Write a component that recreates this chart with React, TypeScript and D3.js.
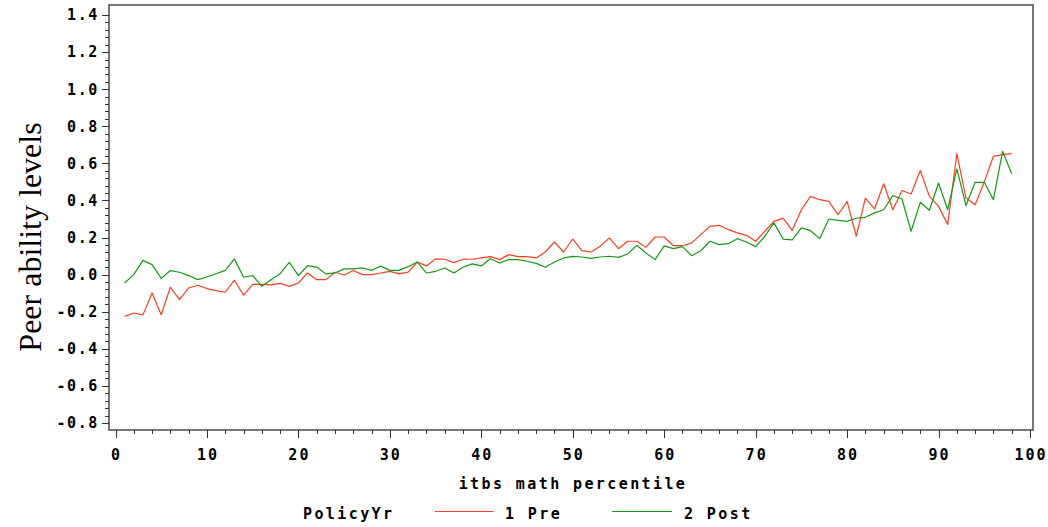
import React, { useEffect, useRef } from "react";
import * as d3 from "d3";

// percentile 1..98
const percentiles: number[] = d3.range(1, 99);

// 1 Pre
const preValues: number[] = [
  -0.225, -0.207, -0.217, -0.099, -0.216, -0.068, -0.135, -0.072, -0.057, -0.075,
  -0.086, -0.095, -0.03, -0.111, -0.052, -0.052, -0.055, -0.047, -0.063, -0.045,
  0.009, -0.027, -0.027, 0.013, -0.002, 0.022, 0.0, 0.0, 0.009, 0.018,
  0.004, 0.014, 0.068, 0.047, 0.085, 0.083, 0.065, 0.083, 0.083, 0.09,
  0.097, 0.081, 0.108, 0.097, 0.097, 0.09, 0.122, 0.176, 0.122, 0.192,
  0.129, 0.122, 0.153, 0.198, 0.14, 0.18, 0.18, 0.147, 0.203, 0.203,
  0.156, 0.156, 0.171, 0.216, 0.26, 0.266, 0.243, 0.225, 0.212, 0.18,
  0.234, 0.287, 0.305, 0.239, 0.35, 0.422, 0.404, 0.395, 0.323, 0.395,
  0.207, 0.413, 0.354, 0.49, 0.35, 0.454, 0.435, 0.562, 0.422, 0.368,
  0.27, 0.652, 0.413, 0.377, 0.5, 0.638, 0.647, 0.652,
];

// 2 Post
const postValues: number[] = [
  -0.045, 0.0, 0.077, 0.054, -0.02, 0.022, 0.013, -0.005, -0.027, -0.013,
  0.005, 0.023, 0.085, -0.014, -0.005, -0.063, -0.027, 0.005, 0.066, -0.005,
  0.049, 0.041, 0.004, 0.009, 0.031, 0.031, 0.036, 0.023, 0.047, 0.023,
  0.023, 0.043, 0.068, 0.009, 0.018, 0.036, 0.009, 0.04, 0.058, 0.047,
  0.086, 0.063, 0.081, 0.081, 0.072, 0.061, 0.04, 0.068, 0.09, 0.098,
  0.095, 0.088, 0.095, 0.099, 0.093, 0.111, 0.158, 0.117, 0.081, 0.155,
  0.14, 0.151, 0.102, 0.129, 0.18, 0.162, 0.167, 0.194, 0.176, 0.151,
  0.207, 0.279, 0.192, 0.187, 0.252, 0.237, 0.194, 0.3, 0.293, 0.287,
  0.304, 0.309, 0.333, 0.35, 0.426, 0.408, 0.234, 0.39, 0.347, 0.494,
  0.35, 0.57, 0.372, 0.498, 0.498, 0.404, 0.665, 0.544,
];

const yTicks: number[] = [-0.8, -0.6, -0.4, -0.2, 0.0, 0.2, 0.4, 0.6, 0.8, 1.0, 1.2, 1.4];
const xTicks: number[] = [0, 10, 20, 30, 40, 50, 60, 70, 80, 90, 100];

const seriesNames: string[] = ["1 Pre", "2 Post"];
const seriesColors: string[] = ["#ff3d22", "#159a15"];

const W = 1048;
const H = 527;
const frame = { left: 109, right: 1033, top: 5, bottom: 430 };
const monoFont = "'DejaVu Sans Mono', monospace";
const fontSize = 15;
const spacing = 2.4;

const App = () => {
  const ref = useRef<SVGSVGElement>(null);

  useEffect(() => {
    const svg = d3.select(ref.current);
    svg.selectAll("*").remove();

    const x = d3.scaleLinear().domain([0, 100]).range([115.5, 1030]);
    const y = d3.scaleLinear().domain([-0.8, 1.4]).range([423, 15]);

    svg.append("rect").attr("width", W).attr("height", H).attr("fill", "#fff");

    // frame
    svg.append("rect")
      .attr("x", frame.left)
      .attr("y", frame.top)
      .attr("width", frame.right - frame.left)
      .attr("height", frame.bottom - frame.top)
      .attr("fill", "none")
      .attr("stroke", "#555")
      .attr("stroke-width", 1.6);

    // y axis ticks (4 minor per major)
    const yMinor = d3.range(-0.8, 1.4001, 0.04);
    svg.append("g")
      .selectAll("line")
      .data(yMinor)
      .join("line")
      .attr("x1", d => (Math.abs(Math.round(d / 0.2) * 0.2 - d) < 1e-6 ? frame.left - 7 : frame.left - 4))
      .attr("x2", frame.left)
      .attr("y1", d => Math.round(y(d)) + 0.5)
      .attr("y2", d => Math.round(y(d)) + 0.5)
      .attr("stroke", "#333")
      .attr("stroke-width", 1);

    svg.append("g")
      .selectAll("text")
      .data(yTicks)
      .join("text")
      .attr("x", 99)
      .attr("y", d => y(d))
      .attr("dy", "0.36em")
      .attr("text-anchor", "end")
      .attr("font-family", monoFont)
      .attr("font-weight", "bold")
      .attr("font-size", fontSize)
      .attr("letter-spacing", 1.6)
      .attr("fill", "#000")
      .text(d => d3.format(".1f")(d).replace("−", "-"));

    // x axis ticks (4 minor per major)
    const xMinor = d3.range(0, 101, 2);
    svg.append("g")
      .selectAll("line")
      .data(xMinor)
      .join("line")
      .attr("x1", d => Math.round(x(d)) + 0.5)
      .attr("x2", d => Math.round(x(d)) + 0.5)
      .attr("y1", frame.bottom)
      .attr("y2", d => (d % 10 === 0 ? frame.bottom + 8 : frame.bottom + 4))
      .attr("stroke", "#333")
      .attr("stroke-width", 1);

    svg.append("g")
      .selectAll("text")
      .data(xTicks)
      .join("text")
      .attr("x", d => x(d) + 1)
      .attr("y", 460)
      .attr("text-anchor", "middle")
      .attr("font-family", monoFont)
      .attr("font-weight", "bold")
      .attr("font-size", fontSize)
      .attr("letter-spacing", 2)
      .attr("fill", "#000")
      .text(d => String(d));

    // axis titles
    svg.append("text")
      .attr("x", 573)
      .attr("y", 489)
      .attr("text-anchor", "middle")
      .attr("font-family", monoFont)
      .attr("font-weight", "bold")
      .attr("font-size", fontSize)
      .attr("letter-spacing", spacing)
      .text("itbs math percentile");

    svg.append("text")
      .attr("transform", "translate(41,237) rotate(-90)")
      .attr("text-anchor", "middle")
      .attr("font-family", "'Liberation Serif', 'Times New Roman', serif")
      .attr("font-size", 32)
      .text("Peer ability levels");

    // lines
    const line = d3.line<number>()
      .x((_, i) => x(percentiles[i]))
      .y(d => y(d));

    [preValues, postValues].forEach((vals, i) => {
      svg.append("path")
        .datum(vals)
        .attr("d", line)
        .attr("fill", "none")
        .attr("stroke", seriesColors[i])
        .attr("stroke-width", 1.2)
        .attr("stroke-linejoin", "round");
    });

    // legend
    const legend = svg.append("g")
      .attr("font-family", monoFont)
      .attr("font-weight", "bold")
      .attr("font-size", fontSize)
      .attr("letter-spacing", spacing);

    legend.append("text").attr("x", 303).attr("y", 519).text("PolicyYr");

    const legendX = [[435, 493, 505], [612, 672, 684]];
    seriesNames.forEach((name, i) => {
      const [a, b, t] = legendX[i];
      legend.append("line")
        .attr("x1", a).attr("x2", b)
        .attr("y1", 511.5).attr("y2", 511.5)
        .attr("stroke", seriesColors[i])
        .attr("stroke-width", 1);
      legend.append("text").attr("x", t).attr("y", 519).text(name);
    });
  }, []);

  return (
    <svg
      ref={ref}
      width={W}
      height={H}
      style={{ position: "absolute", left: 0, top: 0, display: "block" }}
    />
  );
};

export default App;
